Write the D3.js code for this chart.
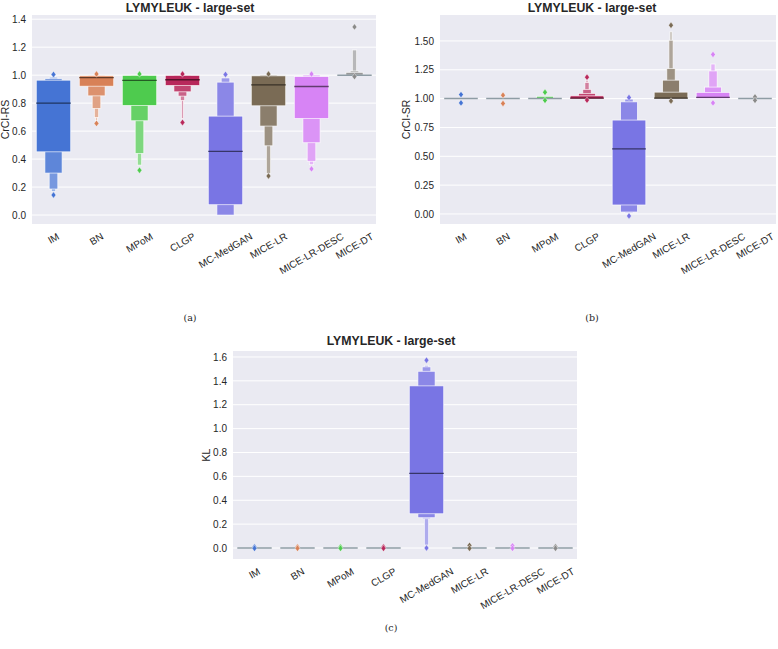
<!DOCTYPE html>
<meta charset="utf-8">
<style>
body { margin: 0; background: #fff; }
text { font-family: "Liberation Sans", Arial, sans-serif; fill: #262626; }
.cap { font-family: "DejaVu Serif", "Liberation Serif", serif; }
</style>
<body>
<script src="https://cdn.jsdelivr.net/npm/d3@7"></script>
<script>

const categories = ["IM", "BN", "MPoM", "CLGP", "MC-MedGAN", "MICE-LR", "MICE-LR-DESC", "MICE-DT"];
const palette = ["#4574d4", "#d88157", "#4ecb4e", "#b8285b", "#7975e4", "#7a6b55", "#d784f5", "#8a8a8a"];

// letter values: lower / upper bounds per level, from the quartiles outwards
const rsMedian = [0.80, 0.982, 0.962, 0.967, 0.455, 0.931, 0.919, 1.0];
const rsLower = [[0.452, 0.30, 0.186, 0.17], [0.921, 0.852, 0.762, 0.698, 0.675], [0.783, 0.674, 0.44, 0.357],
  [0.926, 0.881, 0.85, 0.819, 0.69], [0.074, 0.0, 0.0], [0.781, 0.636, 0.495, 0.298], [0.69, 0.517, 0.384, 0.36], [1.0, 1.0, 1.0, 1.0]];
const rsUpper = [[0.964, 0.975, 0.985, 0.99], [0.995, 0.998, 1.0, 1.0, 1.0], [0.998, 1.0, 1.0, 1.0],
  [0.998, 1.0, 1.0, 1.0, 1.0], [0.707, 0.95, 0.98], [0.995, 1.0, 1.0, 1.0], [0.99, 1.0, 1.0, 1.0], [1.0, 1.02, 1.03, 1.18]];
const rsOutHigh = [[1.005], [1.008], [1.008], [1.008], [1.005], [1.008], [1.008], [1.345]];
const rsOutLow = [[0.143], [0.655], [0.32], [0.662], [], [0.279], [0.33], [0.99]];
const rsTicks = [0, 0.2, 0.4, 0.6, 0.8, 1.0, 1.2, 1.4];

const srMedian = [1.0, 1.0, 1.0, 1.005, 0.565, 1.005, 1.01, 1.0];
const srLower = [[1.0], [1.0, 1.0], [1.0, 1.0], [1.0, 1.0, 1.0, 1.0, 1.0], [0.078, 0.017, 0.01],
  [1.0, 1.0, 1.0, 1.0, 1.0], [1.0, 1.0, 1.0, 1.0], [1.0]];
const srUpper = [[1.0], [1.0, 1.0], [1.0, 1.02], [1.024, 1.045, 1.08, 1.14, 1.16], [0.814, 0.972, 0.996],
  [1.056, 1.16, 1.26, 1.506, 1.58], [1.054, 1.10, 1.24, 1.3], [1.0]];
const srOutHigh = [[1.035], [1.03], [1.055], [1.186], [1.01], [1.636], [1.383], [1.015]];
const srOutLow = [[0.963], [0.958], [0.985], [0.987], [-0.017], [0.98], [0.963], [0.985]];
const srTicks = [0, 0.25, 0.5, 0.75, 1.0, 1.25, 1.5];

const klMedian = [0, 0, 0, 0, 0.625, 0, 0, 0];
const klLower = [[0], [0], [0], [0], [0.287, 0.254, 0.245, 0.025], [0], [0], [0]];
const klUpper = [[0], [0], [0], [0], [1.358, 1.48, 1.517, 1.53], [0], [0], [0]];
const klOutHigh = [[0.008], [0.008], [0.008], [0.008], [1.573], [0.022], [0.018], [0.01]];
const klOutLow = [[-0.003], [-0.003], [-0.003], [-0.003], [0.0], [-0.003], [-0.003], [-0.003]];
const klTicks = [0, 0.2, 0.4, 0.6, 0.8, 1.0, 1.2, 1.4, 1.6];

const svg = d3.select("body").append("svg")
    .attr("width", 778)
    .attr("height", 649);

function panel(o) {
  const g = svg.append("g");
  const x = d3.scaleBand().domain(categories).range([o.left, o.right]);
  const y = d3.scaleLinear().domain(o.domain).range([o.bottom, o.top]);

  g.append("rect")
      .attr("x", o.left).attr("y", o.top)
      .attr("width", o.right - o.left).attr("height", o.bottom - o.top)
      .attr("fill", "#eaeaf2");

  g.append("g").selectAll("line")
    .data(o.ticks)
    .join("line")
      .attr("x1", o.left).attr("x2", o.right)
      .attr("y1", d => y(d)).attr("y2", d => y(d))
      .attr("stroke", "#fff")
      .attr("stroke-width", 1);

  g.append("g")
      .attr("transform", `translate(${o.left},0)`)
      .call(d3.axisLeft(y).tickValues(o.ticks).tickFormat(d3.format(o.fmt)).tickSize(0).tickPadding(6))
      .call(a => a.select(".domain").remove())
      .selectAll("text").attr("font-size", 10);

  const xa = g.append("g")
      .attr("transform", `translate(0,${o.bottom})`)
      .call(d3.axisBottom(x).tickSize(0))
      .call(a => a.select(".domain").remove());
  xa.selectAll("text")
      .attr("font-size", 10)
      .attr("text-anchor", "middle")
      .attr("y", 0)
      .attr("dy", "0.35em")
      .attr("transform", function() {
        const L = this.getComputedTextLength();
        const H = L * 0.5 + 8 * 0.866;
        return `translate(0,${8 + H / 2}) rotate(-30)`;
      });

  // boxes
  const bw = x.bandwidth() * 0.8;
  categories.forEach((c, i) => {
    const cx = x(c) + x.bandwidth() / 2;
    const base = palette[i];
    const lo = o.lower[i], hi = o.upper[i];
    const cg = g.append("g");
    for (let k = lo.length - 1; k >= 0; k--) {
      const w = bw * Math.pow(0.5, k);
      const col = d3.interpolateRgb(base, "#f6f6fa")(Math.min(0.8, k * 0.14));
      cg.append("rect")
          .attr("x", cx - w / 2)
          .attr("width", w)
          .attr("y", y(hi[k]))
          .attr("height", Math.max(0, y(lo[k]) - y(hi[k])))
          .attr("fill", col)
          .attr("stroke", "#fff")
          .attr("stroke-opacity", 0.8)
          .attr("stroke-width", 0.8);
    }
    const flat = y(lo[0]) - y(hi[0]) < 1;
    cg.append("line")
        .attr("x1", cx - bw / 2).attr("x2", cx + bw / 2)
        .attr("y1", y(o.median[i])).attr("y2", y(o.median[i]))
        .attr("stroke", flat ? "#8e9ca4" : d3.color(base).darker(2.2))
        .attr("stroke-width", flat ? 1.5 : 1.3);
    cg.selectAll("path")
      .data(o.outHigh[i].concat(o.outLow[i]))
      .join("path")
        .attr("d", "M0,-3.2L2.4,0L0,3.2L-2.4,0Z")
        .attr("transform", d => `translate(${cx},${y(d)})`)
        .attr("fill", base)
        .attr("stroke", "#fff")
        .attr("stroke-width", 0.4);
  });

  g.append("text")
      .attr("x", o.titleX).attr("y", o.titleY)
      .attr("text-anchor", "middle")
      .attr("font-size", 12.3)
      .attr("font-weight", "bold")
      .text("LYMYLEUK - large-set");

  g.append("text")
      .attr("transform", `translate(${o.labelX},${(o.top + o.bottom) / 2}) rotate(-90)`)
      .attr("text-anchor", "middle")
      .attr("dy", "0.35em")
      .attr("font-size", 10.5)
      .text(o.label);

  g.append("text")
      .attr("class", "cap")
      .attr("x", o.titleX).attr("y", o.capY)
      .attr("text-anchor", "middle")
      .attr("font-size", 9.5)
      .text(o.caption);
}

panel({left: 32, right: 376, top: 15, bottom: 224, domain: [-0.064, 1.43], ticks: rsTicks, fmt: ".1f",
  median: rsMedian, lower: rsLower, upper: rsUpper, outHigh: rsOutHigh, outLow: rsOutLow,
  label: "CrCI-RS", labelX: 5, titleX: 190, titleY: 12, capY: 321, caption: "(a)"});

panel({left: 440, right: 776, top: 15, bottom: 224, domain: [-0.087, 1.725], ticks: srTicks, fmt: ".2f",
  median: srMedian, lower: srLower, upper: srUpper, outHigh: srOutHigh, outLow: srOutLow,
  label: "CrCI-SR", labelX: 406, titleX: 592, titleY: 12, capY: 321, caption: "(b)"});

panel({left: 233, right: 577, top: 351, bottom: 559, domain: [-0.092, 1.65], ticks: klTicks, fmt: ".1f",
  median: klMedian, lower: klLower, upper: klUpper, outHigh: klOutHigh, outLow: klOutLow,
  label: "KL", labelX: 206, titleX: 391, titleY: 345, capY: 631, caption: "(c)"});

</script>
